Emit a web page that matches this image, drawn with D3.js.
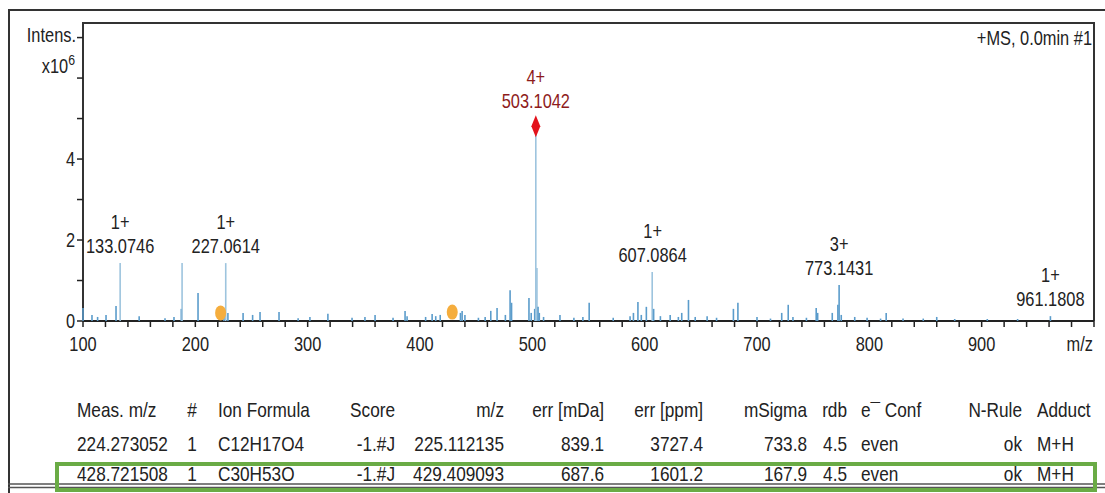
<!DOCTYPE html>
<html lang="en">
<head>
<meta charset="utf-8">
<title>MS spectrum</title>
<script src="https://cdn.jsdelivr.net/npm/d3@7"></script>
<style>
  body { margin: 0; background: #fff; }
  svg text { font-family: "Liberation Sans", Arial, sans-serif; fill: #222; }
</style>
</head>
<body>
<script>
// m/z and intensity (x10^6)
var peakMz = [100.0, 108, 113, 120.5, 129.4, 133.07, 150, 173, 181, 187.5, 188.2, 202.4, 225.5, 227.06, 229, 242.5, 251, 257.6, 274.5, 291.5, 302, 318, 339.5, 351, 360, 376,
              386.7, 388.5, 405, 410.8, 414, 418, 436, 437.5, 440, 452, 458, 463, 468.6, 476, 480.2, 481.5, 497, 499, 502.1, 503.1, 504.1, 505.1, 506.2, 510, 524.6,
              537, 545, 550.6, 572, 587, 590, 594, 597, 601.5, 606.7, 608, 614, 622.7, 630, 633, 639, 645, 655.6, 664, 679, 683, 700,
              712, 722, 727.8, 732, 744, 752.7, 754, 767, 772, 773.1, 775, 787, 798, 810, 815, 830, 848, 860, 876, 905, 932, 961.2];
var peakInt = [0.32, 0.15, 0.1, 0.15, 0.37, 1.43, 0.12, 0.07, 0.1, 0.3, 1.43, 0.69, 0.15, 1.43, 0.2, 0.2, 0.15, 0.22, 0.22, 0.07, 0.1, 0.18, 0.08, 0.1, 0.15, 0.08,
               0.25, 0.12, 0.1, 0.17, 0.12, 0.15, 0.2, 0.25, 0.15, 0.08, 0.1, 0.25, 0.32, 0.15, 0.76, 0.45, 0.57, 0.2, 0.3, 4.81, 1.31, 0.35, 0.2, 0.1, 0.15,
               0.08, 0.1, 0.45, 0.08, 0.12, 0.2, 0.47, 0.15, 0.35, 1.21, 0.3, 0.12, 0.15, 0.1, 0.2, 0.52, 0.1, 0.12, 0.08, 0.3, 0.45, 0.1,
               0.06, 0.2, 0.4, 0.1, 0.08, 0.32, 0.2, 0.2, 0.4, 0.89, 0.15, 0.1, 0.08, 0.06, 0.2, 0.06, 0.06, 0.1, 0.05, 0.05, 0.05, 0.12];

// annotated peaks
var labelMz = [133.0746, 227.0614, 503.1042, 607.0864, 773.1431, 961.1808];
var labelInt = [1.43, 1.43, 4.81, 1.21, 0.89, 0.12];
var labelCharge = ["1+", "1+", "4+", "1+", "3+", "1+"];

// compound markers (orange)
var compoundMz = [222.5, 428.7];
var compoundInt = [0.2, 0.22];

var xTicks = [100, 200, 300, 400, 500, 600, 700, 800, 900];
var yLabelTicks = [0, 2, 4];

var tableHeader = ["Meas. m/z", "#", "Ion Formula", "Score", "m/z", "err [mDa]", "err [ppm]", "mSigma", "rdb", "e\u00AF Conf", "N-Rule", "Adduct"];
var tableRow1 = ["224.273052", "1", "C12H17O4", "-1.#J", "225.112135", "839.1", "3727.4", "733.8", "4.5", "even", "ok", "M+H"];
var tableRow2 = ["428.721508", "1", "C30H53O", "-1.#J", "429.409093", "687.6", "1601.2", "167.9", "4.5", "even", "ok", "M+H"];

var w = 1105, h = 493;
var squeeze = 0.82; // narrow face look

var svg = d3.select("body").append("svg")
  .attr("width", w)
  .attr("height", h);

svg.append("rect").attr("width", w).attr("height", h).attr("fill", "#fff");

// text placed at (px,py) and squeezed horizontally
function pos(px, py) {
  return "translate(" + px + "," + py + ") scale(" + squeeze + ",1)";
}

// outer frame
svg.append("line").attr("x1", 8).attr("x2", w).attr("y1", 10).attr("y2", 10)
  .attr("stroke", "#333").attr("stroke-width", 2);
svg.append("line").attr("x1", 9).attr("x2", 9).attr("y1", 10).attr("y2", h)
  .attr("stroke", "#333").attr("stroke-width", 2);
svg.append("line").attr("x1", 8).attr("x2", w).attr("y1", 484).attr("y2", 484)
  .attr("stroke", "#555").attr("stroke-width", 1.5);
svg.append("line").attr("x1", 8).attr("x2", w).attr("y1", 487.5).attr("y2", 487.5)
  .attr("stroke", "#555").attr("stroke-width", 1.5);

var x = d3.scaleLinear().domain([100, 1000]).range([83, 1094]);
var y = d3.scaleLinear().domain([0, 7.36]).range([321, 23]);

// plot box
svg.append("path")
  .attr("d", "M" + x(100) + "," + y(0) + "V" + y(7.36) + "H" + x(1000) + "V" + y(0))
  .attr("fill", "none").attr("stroke", "#333").attr("stroke-width", 2);

// x axis
var xAxis = svg.append("g").attr("transform", "translate(0," + y(0) + ")");
xAxis.append("line").attr("x1", x(100)).attr("x2", x(1000))
  .attr("stroke", "#222").attr("stroke-width", 2);
xAxis.selectAll("line.tick")
  .data(d3.range(100, 1001, 20))
  .enter().append("line")
  .attr("class", "tick")
  .attr("x1", function(d) { return x(d); })
  .attr("x2", function(d) { return x(d); })
  .attr("y1", 0).attr("y2", 6)
  .attr("stroke", "#222").attr("stroke-width", 1.5);
xAxis.selectAll("text")
  .data(xTicks)
  .enter().append("text")
  .attr("transform", function(d) { return pos(x(d), 30); })
  .attr("text-anchor", "middle")
  .attr("font-size", "20px")
  .text(function(d) { return d; });
xAxis.append("text")
  .attr("transform", pos(x(1000) - 1, 30))
  .attr("text-anchor", "end")
  .attr("font-size", "20px")
  .text("m/z");

// y axis
var yAxis = svg.append("g").attr("transform", "translate(" + x(100) + ",0)");
yAxis.selectAll("line.tick")
  .data(d3.range(0, 8))
  .enter().append("line")
  .attr("class", "tick")
  .attr("x1", -6).attr("x2", 0)
  .attr("y1", function(d) { return y(d); })
  .attr("y2", function(d) { return y(d); })
  .attr("stroke", "#222").attr("stroke-width", 1.5);
yAxis.selectAll("text")
  .data(yLabelTicks)
  .enter().append("text")
  .attr("transform", function(d) { return pos(-8, y(d) + 7); })
  .attr("text-anchor", "end")
  .attr("font-size", "20px")
  .text(function(d) { return d; });
yAxis.append("text")
  .attr("transform", pos(-7, 42))
  .attr("text-anchor", "end")
  .attr("font-size", "20px")
  .text("Intens.");
var yUnit = yAxis.append("text")
  .attr("transform", pos(-8, 73))
  .attr("text-anchor", "end")
  .attr("font-size", "20px");
yUnit.append("tspan").text("x10");
yUnit.append("tspan").attr("dy", -8).attr("font-size", "15px").text("6");

svg.append("text")
  .attr("transform", pos(x(1000) - 2, 45))
  .attr("text-anchor", "end")
  .attr("font-size", "20px")
  .text("+MS, 0.0min #1");

// spectrum sticks
var peaks = peakMz.map(function(d, i) { return { mz: d, v: peakInt[i] }; });
svg.selectAll("line.peak")
  .data(peaks)
  .enter().append("line")
  .attr("class", "peak")
  .attr("x1", function(d) { return x(d.mz); })
  .attr("x2", function(d) { return x(d.mz); })
  .attr("y1", y(0))
  .attr("y2", function(d) { return y(d.v); })
  .attr("stroke", function(d) { return d.v > 1 ? "#9dc4de" : "#5b9ccb"; })
  .attr("stroke-width", 1.6);

// compound markers
svg.selectAll("ellipse.cmp")
  .data(compoundMz)
  .enter().append("ellipse")
  .attr("class", "cmp")
  .attr("cx", function(d) { return x(d); })
  .attr("cy", function(d, i) { return y(compoundInt[i]); })
  .attr("rx", 5.5).attr("ry", 7.5)
  .attr("fill", "#f5ad3d");

// red diamond on base peak
var baseIdx = labelCharge.indexOf("4+");
svg.append("path")
  .attr("d", d3.symbol().type(d3.symbolDiamond).size(95)())
  .attr("transform", "translate(" + x(labelMz[baseIdx]) + "," + y(labelInt[baseIdx]) + ") scale(0.85,1.2)")
  .attr("fill", "#e3121b");

// peak labels
var labels = labelMz.map(function(d, i) { return { mz: d, v: labelInt[i], z: labelCharge[i] }; });
var lab = svg.selectAll("g.lab")
  .data(labels)
  .enter().append("g")
  .attr("class", "lab")
  .attr("transform", function(d, i) {
    var off = i === baseIdx ? 18 : 10;
    return "translate(" + x(d.mz) + "," + (y(d.v) - off) + ") scale(" + squeeze + ",1)";
  });
lab.append("text")
  .attr("text-anchor", "middle")
  .attr("font-size", "20px")
  .style("fill", function(d, i) { return i === baseIdx ? "#8e1b1b" : "#222"; })
  .text(function(d) { return d.mz.toFixed(4); });
lab.append("text")
  .attr("y", -24)
  .attr("text-anchor", "middle")
  .attr("font-size", "20px")
  .style("fill", function(d, i) { return i === baseIdx ? "#8e1b1b" : "#222"; })
  .text(function(d) { return d.z; });

// result table
var colX = [77, 192, 218, 395, 504, 604, 703, 807, 847, 861, 1022, 1037];
var colAnchor = ["start", "middle", "start", "end", "end", "end", "end", "end", "end", "start", "end", "start"];
var rowY = [417, 451, 481];
[tableHeader, tableRow1, tableRow2].forEach(function(row, r) {
  svg.append("g").selectAll("text")
    .data(row)
    .enter().append("text")
    .attr("transform", function(d, i) { return pos(colX[i], rowY[r]); })
    .attr("text-anchor", function(d, i) { return colAnchor[i]; })
    .attr("font-size", "21px")
    .text(function(d) { return d; });
});

// highlight box round second row
svg.append("rect")
  .attr("x", 57).attr("y", 464)
  .attr("width", 1038).attr("height", 26)
  .attr("fill", "none")
  .attr("stroke", "#6aab45")
  .attr("stroke-width", 4);
</script>
</body>
</html>
